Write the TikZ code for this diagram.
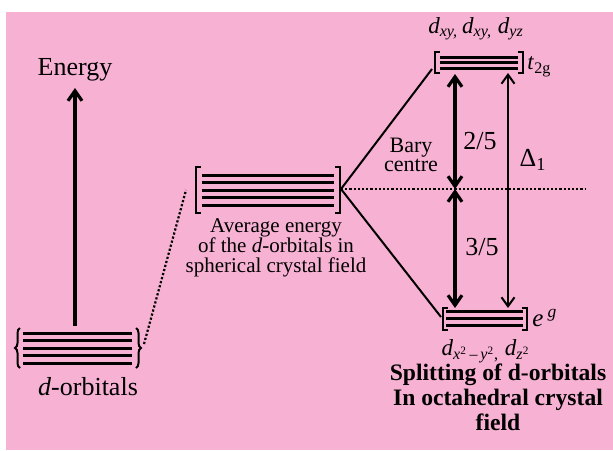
\documentclass[tikz,border=0pt]{standalone}
\usepackage{fontspec}
\setmainfont{Liberation Serif}
\usetikzlibrary{arrows.meta, decorations.pathreplacing}
\definecolor{cfpink}{RGB}{247,177,211}

\newcommand{\orbd}[1]{\textit{d}\textsubscript{\itshape #1}}

\begin{document}
\begin{tikzpicture}[
  x=0.5pt, y=-0.5pt,
  every node/.style={inner sep=0pt},
  level/.style={line width=1.5pt},
  bracket/.style={line width=1.3pt},
  link/.style={line width=1pt},
  dots/.style={line width=1.1pt, dash pattern=on 1.1pt off 1pt},
  bigtxt/.style={font=\fontsize{13}{13}\selectfont},
  smalltxt/.style={font=\fontsize{10.5}{10}\selectfont, align=center},
  titletxt/.style={font=\fontsize{11.8}{12.5}\selectfont\bfseries, align=center},
  thickarrow/.style={{Straight Barb[length=5pt,width=7pt,line width=1.6pt]}-{Straight Barb[length=5pt,width=7pt,line width=1.6pt]}, line width=2pt},
  thinarrow/.style={{Straight Barb[length=4.5pt,width=6.5pt,line width=1pt]}-{Straight Barb[length=4.5pt,width=6.5pt,line width=1pt]}, line width=1pt}
]
  \useasboundingbox (0,0) rectangle (613,450);
  \fill[white] (0,0) rectangle (613,450);
  \fill[cfpink] (6,12) rectangle (613,450);

  % Energie-Achse
  \node[bigtxt, anchor=base] (energy) at (75,75) {Energy};
  \coordinate (ebase) at (75,326);
  \coordinate (etip) at (75,88);
  \draw[-{Straight Barb[length=5pt,width=7pt,line width=1.6pt]}, line width=2pt] (ebase) -- (etip);

  % freie d-Orbitale
  \foreach \y in {333,340.5,348,355.5,363}
    \draw[level] (23,\y) -- (132,\y);
  \draw[link, decorate, decoration={brace, amplitude=2.5pt}] (20,368) -- (20,328);
  \draw[link, decorate, decoration={brace, amplitude=2.5pt}] (136,328) -- (136,368);
  \coordinate (free-r) at (144,344);
  \node[bigtxt, anchor=base] (dorb) at (88,395) {\textit{d}-orbitals};

  % Mittelwert im kugelsymmetrischen Feld
  \draw[bracket] (201,167) -- (196,167) -- (196,213) -- (201,213);
  \draw[bracket] (335,167) -- (340,167) -- (340,213) -- (335,213);
  \foreach \y in {175,182.5,190,197.5,205}
    \draw[level] (202,\y) -- (334,\y);
  \coordinate (avg-l) at (186,190);
  \coordinate (avg-r) at (341,189);
  \node[smalltxt, anchor=north] (avg) at (276,218) {Average energy\\of the \textit{d}-orbitals in\\spherical crystal field};

  % t2g-Niveau
  \draw[bracket] (440,52) -- (435,52) -- (435,73) -- (440,73);
  \draw[bracket] (518,52) -- (523,52) -- (523,73) -- (518,73);
  \foreach \y in {57.5,62.5,68}
    \draw[level] (440,\y) -- (518,\y);
  \coordinate (t2g-l) at (432,69);
  \node[font=\fontsize{11.5}{11.5}\selectfont, anchor=base] (t2glab) at (476,33) {\orbd{xy,}\,\orbd{xy,} \orbd{yz}};
  \node[font=\fontsize{11.5}{11.5}\selectfont, anchor=west] (t2g) at (527,67) {\textit{t}\textsubscript{2g}};

  % eg-Niveau
  \draw[bracket] (448,308) -- (443,308) -- (443,330) -- (448,330);
  \draw[bracket] (522,308) -- (527,308) -- (527,330) -- (522,330);
  \foreach \y in {311,318,325}
    \draw[level] (446,\y) -- (523,\y);
  \coordinate (eg-l) at (441,317);
  \node[font=\fontsize{11.5}{11.5}\selectfont, anchor=base] (eglab) at (486,355) {\textit{d}\textsubscript{\textit{x}\textsuperscript{2}\,--\,\textit{y}\textsuperscript{2},} \textit{d}\textsubscript{\textit{z}\textsuperscript{2}}};
  \node[font=\fontsize{12.5}{12.5}\selectfont, anchor=west] (eg) at (532,318) {\textit{e}\,\textsuperscript{\itshape g}};

  % Verbindungen
  \draw[dots] (free-r) -- (avg-l);
  \draw[link] (avg-r) -- (t2g-l);
  \draw[link] (avg-r) -- (eg-l);
  \coordinate (bary) at (455,189);
  \coordinate (bary-end) at (586,189);
  \draw[dots] (avg-r) -- (bary-end);

  % Aufspaltung
  \coordinate (t2g-a) at (455,74);
  \coordinate (eg-a) at (455,308);
  \coordinate (t2g-b) at (508,73);
  \coordinate (eg-b) at (508,308);
  \draw[thickarrow] (t2g-a) -- (bary);
  \draw[thickarrow] (bary) -- (eg-a);
  \draw[thinarrow] (t2g-b) -- (eg-b);
  \node[bigtxt] (up) at (480,141) {2/5};
  \node[bigtxt] (down) at (482,247) {3/5};
  \node[smalltxt, font=\fontsize{11}{9.5}\selectfont] (bc) at (411,155) {Bary\\centre};
  \node[bigtxt] (delta) at (533,160) {Δ\textsubscript{1}};

  \node[titletxt, anchor=north] (title) at (498,363) {Splitting of d-orbitals\\In octahedral crystal\\field};
\end{tikzpicture}
\end{document}
